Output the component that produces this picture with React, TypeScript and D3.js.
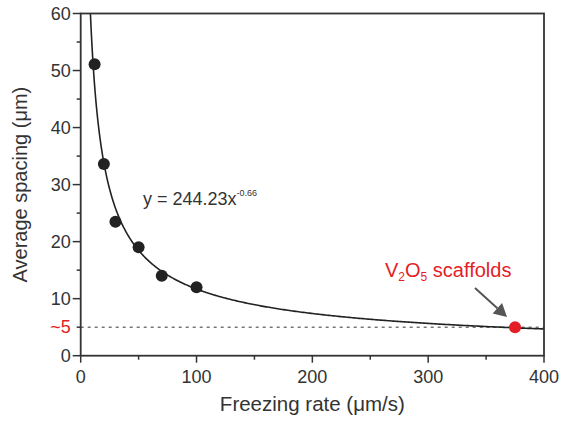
import React from 'react';
import * as d3 from 'd3';

const rates = [12, 20, 30, 50, 70, 100];
const spacings = [51.1, 33.6, 23.5, 19.0, 14.0, 12.0];
const scaffoldPoint = [375, 5];
const xTicks = [0, 100, 200, 300, 400];
const xMinor = [50, 150, 250, 350];
const yTicks = [0, 10, 20, 30, 40, 50, 60];
const yMinor = [5, 15, 25, 35, 45, 55];
const fitA = 244.23;
const fitB = -0.66;

const W = 561, H = 421;
const left = 80.7, right = 544, top = 13.5, bottom = 355.7;
const font = 'Liberation Sans, Arial, sans-serif';
const RED = '#e41e26';

export default function App() {
  const x = d3.scaleLinear().domain([0, 400]).range([left, right]);
  const y = d3.scaleLinear().domain([0, 60]).range([bottom, top]);
  const xStart = Math.pow(60 / fitA, 1 / fitB);
  const curvePts: [number, number][] = d3.range(0, 401).map(i => {
    const xv = xStart + (400 - xStart) * Math.pow(i / 400, 2);
    return [xv, fitA * Math.pow(xv, fitB)];
  });
  const line = d3.line<[number, number]>().x(d => x(d[0])).y(d => y(d[1]));

  const ax1 = 475, ay1 = 288, ax2 = 507, ay2 = 317;
  const ang = Math.atan2(ay2 - ay1, ax2 - ax1);
  const hl = 13, hw = 7;
  const bx = ax2 - hl * Math.cos(ang), by = ay2 - hl * Math.sin(ang);
  const head = `M${ax2},${ay2} L${bx + hw * Math.sin(ang)},${by - hw * Math.cos(ang)} L${bx - hw * Math.sin(ang)},${by + hw * Math.cos(ang)} Z`;

  return (
    <svg width={W} height={H} style={{ position: 'absolute', left: 0, top: 0, background: '#fff' }} fontFamily={font}>
      <rect x={0} y={0} width={W} height={H} fill="#fff" />
      <line x1={x(0)} x2={x(400)} y1={y(5)} y2={y(5)} stroke="#333" strokeWidth={1} strokeDasharray="3,4" />
      <path d={line(curvePts) || ''} fill="none" stroke="#222" strokeWidth={1.6} />
      {rates.map((r, i) => (
        <circle key={i} cx={x(r)} cy={y(spacings[i])} r={6} fill="#222" />
      ))}
      <circle cx={x(scaffoldPoint[0])} cy={y(scaffoldPoint[1])} r={6} fill={RED} />
      <rect x={left} y={top} width={right - left} height={bottom - top} fill="none" stroke="#333" strokeWidth={1.8} />
      {yTicks.map(t => (
        <g key={'y' + t}>
          <line x1={left - 8} x2={left} y1={y(t)} y2={y(t)} stroke="#333" strokeWidth={1.5} />
          <text x={left - 10} y={y(t)} dy="0.35em" textAnchor="end" fontSize={18} fill="#333">{t}</text>
        </g>
      ))}
      {yMinor.map(t => (
        <line key={'ym' + t} x1={left - 4} x2={left} y1={y(t)} y2={y(t)} stroke="#333" strokeWidth={1.5} />
      ))}
      <text x={left - 10} y={y(5)} dy="0.35em" textAnchor="end" fontSize={18} fill={RED}>~5</text>
      {xTicks.map(t => (
        <g key={'x' + t}>
          <line x1={x(t)} x2={x(t)} y1={bottom} y2={bottom + 7} stroke="#333" strokeWidth={1.5} />
          <text x={x(t)} y={bottom + 27} textAnchor="middle" fontSize={18} fill="#333">{t}</text>
        </g>
      ))}
      {xMinor.map(t => (
        <line key={'xm' + t} x1={x(t)} x2={x(t)} y1={bottom} y2={bottom + 4} stroke="#333" strokeWidth={1.5} />
      ))}
      <text x={(left + right) / 2} y={411} textAnchor="middle" fontSize={20.5} fill="#333">Freezing rate (μm/s)</text>
      <text transform={`translate(27,${(top + bottom) / 2}) rotate(-90)`} textAnchor="middle" fontSize={20} fill="#333">Average spacing (μm)</text>
      <text x={143} y={205} fontSize={18} fill="#333">
        y = 244.23x<tspan fontSize={9} dy={-9}>-0.66</tspan>
      </text>
      <text x={385} y={277} fontSize={20} fill={RED}>
        V<tspan fontSize={12} dy={4}>2</tspan><tspan dy={-4}>O</tspan><tspan fontSize={12} dy={4}>5</tspan><tspan dy={-4}> scaffolds</tspan>
      </text>
      <line x1={ax1} y1={ay1} x2={bx} y2={by} stroke="#555" strokeWidth={2} />
      <path d={head} fill="#555" />
    </svg>
  );
}
